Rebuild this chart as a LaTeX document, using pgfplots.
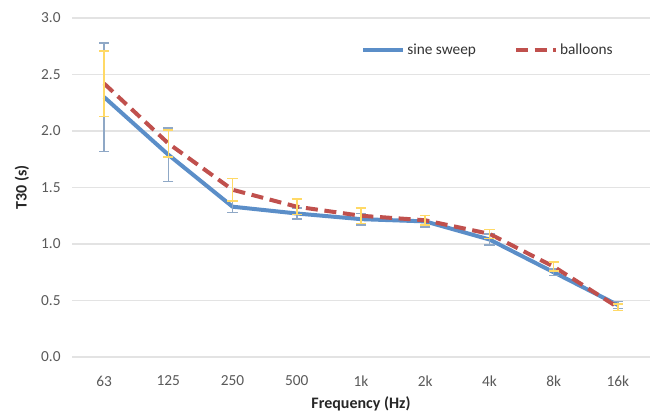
\documentclass[border=0pt]{standalone}
\usepackage{pgfplots}
\pgfplotsset{compat=1.18}
\usepackage{fontspec}
\setmainfont{Carlito}
\definecolor{sweep}{HTML}{5B8EC8}
\definecolor{ball}{HTML}{C0504D}
\definecolor{errb}{HTML}{8FA8C6}
\definecolor{erry}{HTML}{FFD966}
\definecolor{tick}{HTML}{595959}
\definecolor{gridc}{HTML}{E3E3E3}
\begin{document}
\begin{tikzpicture}[x=0.75pt,y=0.75pt]
\begin{axis}[
  at={(0,0)}, anchor=south west,
  scale only axis,
  width=433.5pt, height=254.25pt,
  xmin=-0.5, xmax=8.5, ymin=0, ymax=3,
  xtick={0,...,8},
  xticklabels={63,125,250,500,1k,2k,4k,8k,16k},
  ytick={0,0.5,...,3},
  /pgf/number format/assume math mode=true,
  yticklabel style={/pgf/number format/fixed,/pgf/number format/fixed zerofill,/pgf/number format/precision=1, anchor=east, xshift=-5pt},
  xticklabel style={anchor=center, yshift=-18pt},
  ticklabel style={font=\fontsize{11.5}{13}\selectfont, text=tick},
  major tick length=0pt,
  axis line style={draw=none},
  ymajorgrids, grid style={gridc, line width=0.8pt},
  xlabel={\textbf{Frequency (Hz)}},
  ylabel={\textbf{T30 (s)}},
  label style={font=\fontsize{12}{14}\selectfont, text=black!85},
  xlabel style={at={(axis description cs:0.5,-0.1386)}, anchor=center},
  ylabel style={at={(axis description cs:-0.0865,0.5)}, anchor=center},
  legend style={draw=none, fill=none, at={(0.9394,0.906)}, anchor=east, legend columns=2,
    inner sep=0pt, nodes={inner xsep=1.5pt},
    font=\fontsize{11.5}{13}\selectfont, text=black!80, /tikz/every even column/.append style={column sep=27pt}},
  legend image code/.code={\draw[#1] (0pt,0pt) -- (30pt,0pt);},
  clip=false,
]
\addplot[sweep, line width=3pt, line join=round,
  error bars/.cd, y dir=both, y explicit,
  error bar style={errb, line width=1.1pt}, error mark options={errb, line width=1.1pt, mark size=3.8pt, rotate=90}]
  coordinates {
  (0,2.30) +- (0,0.48)
  (1,1.79) +- (0,0.235)
  (2,1.33) +- (0,0.05)
  (3,1.27) +- (0,0.05)
  (4,1.22) +- (0,0.05)
  (5,1.20) +- (0,0.05)
  (6,1.04) +- (0,0.05)
  (7,0.75) +- (0,0.03)
  (8,0.46) +- (0,0.03)
};
\addlegendentry{sine sweep}
\addplot[ball, line width=3pt, dash pattern=on 9pt off 5pt,
  error bars/.cd, y dir=both, y explicit,
  error bar style={erry, line width=1.1pt, solid}, error mark options={erry, line width=1.1pt, mark size=3.8pt, rotate=90, solid}]
  coordinates {
  (0,2.42) +- (0,0.29)
  (1,1.89) +- (0,0.12)
  (2,1.48) +- (0,0.10)
  (3,1.33) +- (0,0.07)
  (4,1.25) +- (0,0.07)
  (5,1.21) +- (0,0.04)
  (6,1.09) +- (0,0.04)
  (7,0.80) +- (0,0.04)
  (8,0.44) +- (0,0.03)
};
\addlegendentry{balloons}
\end{axis}
\pgfresetboundingbox
\path[use as bounding box] (-72,-57) rectangle (589,357);
\end{tikzpicture}
\end{document}
